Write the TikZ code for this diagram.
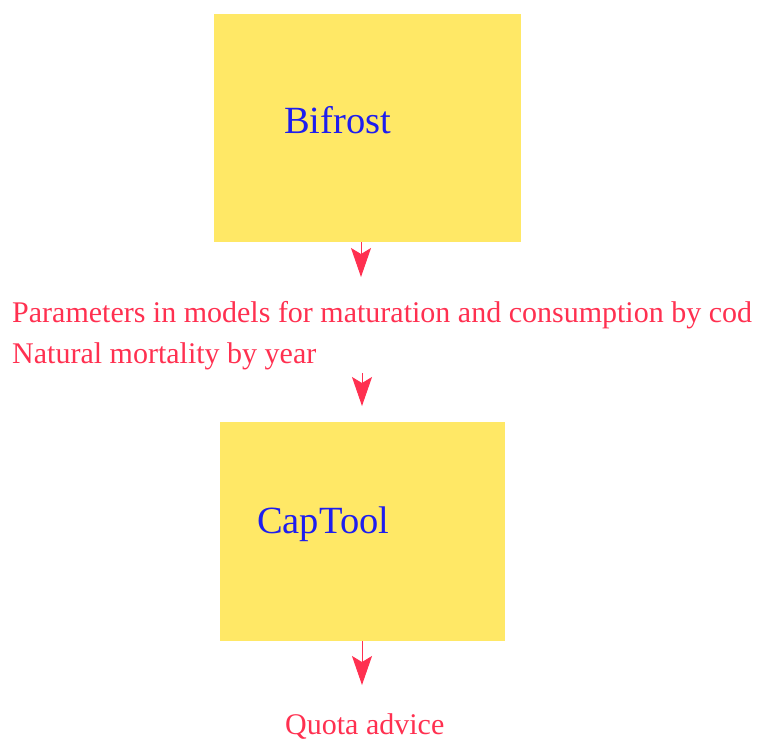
\documentclass[tikz,border=0pt]{standalone}
\usepackage{fontspec}
\setmainfont{Liberation Serif}
\usetikzlibrary{arrows.meta}
\definecolor{boxfill}{HTML}{FFE866}
\definecolor{boxtext}{HTML}{1E1EEE}
\definecolor{flowred}{HTML}{FF3050}
\tikzset{
  modelbox/.style={fill=boxfill, draw=none, inner sep=0pt},
  modeltext/.style={text=boxtext, font=\fontsize{38.5}{44}\selectfont, inner sep=0pt, anchor=base west},
  flowtext/.style={text=flowred, font=\fontsize{30}{34}\selectfont, inner sep=0pt, anchor=base west},
  flowarrow/.style={draw=flowred, line width=1pt, -{Stealth[length=29pt, width=20pt, inset=6pt]}}
}
\begin{document}
\begin{tikzpicture}[x=1pt,y=-1pt]
\useasboundingbox (0,0) rectangle (759,740);
\fill[boxfill] (214,14) rectangle (521,242);
\coordinate (bifb) at (361,242);
\node[modeltext] (bif) at (284,133) {Bifrost};
\fill[boxfill] (220,422) rectangle (505,641);
\coordinate (capb) at (362,641);
\node[modeltext] (cap) at (257,533) {CapTool};
\node[flowtext] (p1) at (12,322) {Parameters in models for maturation and consumption by cod};
\node[flowtext] (p2) at (12,363) {Natural mortality by year};
\node[flowtext] (q) at (285,734) {Quota advice};
\coordinate (a1e) at (361,277);
\coordinate (a2s) at (362,373);
\coordinate (a2e) at (362,406);
\coordinate (a3e) at (362,685);
\draw[flowarrow] (bifb) -- (a1e);
\draw[flowarrow] (a2s) -- (a2e);
\draw[flowarrow] (capb) -- (a3e);
\end{tikzpicture}
\end{document}
